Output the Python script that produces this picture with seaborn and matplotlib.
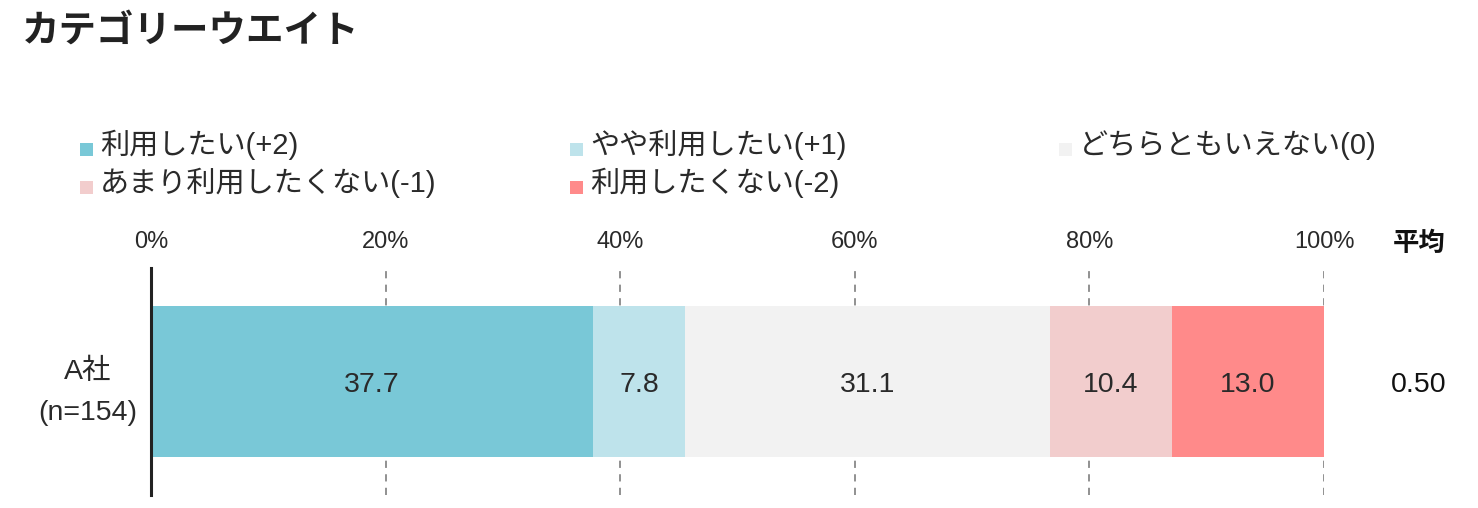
import matplotlib
matplotlib.use('Agg')
import matplotlib.pyplot as plt
from matplotlib.patches import Rectangle
import seaborn as sns
import numpy as np
import pandas as pd

title = 'カテゴリーウエイト'
company = 'A社\n(n=154)'
labels = ['利用したい(+2)', 'やや利用したい(+1)', 'どちらともいえない(0)',
          'あまり利用したくない(-1)', '利用したくない(-2)']
values = [37.7, 7.8, 31.1, 10.4, 13.0]
colors = ['#79C8D7', '#BEE3EB', '#F2F2F2', '#F2CDCD', '#FF8A8A']
average = 0.50
ticks = [0, 20, 40, 60, 80, 100]

sns.set_theme(style='white')
plt.rcParams['font.family'] = ['Liberation Sans', 'Noto Sans CJK JP']
text_col = '#2a2a2a'

W, H = 1478, 508
fig = plt.figure(figsize=(W / 100, H / 100), dpi=100)
ax = fig.add_axes([151 / W, 1 - 495 / H, 1173 / W, 227 / H])

# stacked bars: draw cumulative totals from the longest down so each overlays the previous
cum = np.cumsum(values)
for i in range(len(values) - 1, -1, -1):
    df = pd.DataFrame({'pct': [cum[i]], 'company': [company]})
    sns.barplot(data=df, x='pct', y='company', orient='h', color=colors[i],
                saturation=1, width=1, errorbar=None, linewidth=0, ax=ax, zorder=2)

starts = cum - np.array(values)
for s, v in zip(starts, values):
    ax.text(s + v / 2, 0, f'{v:.1f}', ha='center', va='center_baseline', fontsize=20.5,
            color=text_col, zorder=3)

ax.set_xlim(0, 100)
ax.set_ylim(0.75, -0.75)
ax.xaxis.tick_top()
ax.set_xticks(ticks)
ax.set_xticklabels([f'{t}%' for t in ticks], fontsize=17, color=text_col)
ax.tick_params(axis='x', length=0, pad=11)
ax.tick_params(axis='y', length=0, pad=10)
for lab in ax.get_yticklabels():
    lab.set_fontsize(20.5)
    lab.set_color(text_col)
    lab.set_multialignment('center')
    lab.set_linespacing(1.75)
ax.set_xlabel('')
ax.set_ylabel('')
ax.grid(axis='x', color='#888888', linestyle=(0, (4, 3.5)), linewidth=1.3, zorder=0)
ax.set_axisbelow(True)
for side in ['top', 'right', 'bottom']:
    ax.spines[side].set_visible(False)
ax.spines['left'].set_color('#222222')
ax.spines['left'].set_linewidth(2.2)
ax.spines['left'].set_zorder(4)

# average column
fig.text(1419 / W, 1 - 243 / H, '平均', ha='center', va='center', fontsize=19,
         fontweight='bold', family=['Noto Sans CJK JP'], color='#111111')
ax.text(108.1, 0, f'{average:.2f}', ha='center', va='center_baseline', fontsize=20.5,
        color='#111111', clip_on=False)

# title
fig.text(22 / W, 1 - 30 / H, title, ha='left', va='center', fontsize=27,
         fontweight='bold', family=['Noto Sans CJK JP'], color='#222222')

# legend (3 columns, 2 rows)
col_x = [80, 570, 1059]
row_y = [145, 183]
for i, (lab, c) in enumerate(zip(labels, colors)):
    cx = col_x[i % 3]
    cy = row_y[i // 3]
    fig.patches.append(Rectangle((cx / W, 1 - (cy + 11) / H), 13 / W, 13 / H,
                                 transform=fig.transFigure, color=c, linewidth=0))
    fig.text((cx + 20) / W, 1 - cy / H, lab, ha='left', va='center', fontsize=21, color=text_col)

fig.savefig('out.png', dpi=100)
